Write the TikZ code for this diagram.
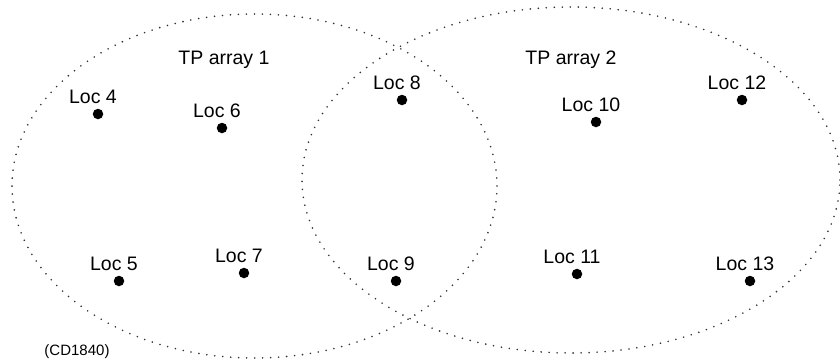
\documentclass[tikz,border=0pt]{standalone}
\usepackage{fontspec}
\setmainfont{Liberation Sans}
\usetikzlibrary{calc}
\tikzstyle{every node}=[font=\fontsize{19.5}{22}\selectfont]
\tikzstyle{zone}=[line width=1.8pt, dash pattern=on 0pt off 8pt, line cap=round, black!80]
\tikzstyle{dot}=[circle, fill=black, inner sep=0pt, minimum size=10.5pt]

\begin{document}
\begin{tikzpicture}[x=1pt,y=-1pt]
        \useasboundingbox (0,0) rectangle (840,360);

        \draw [zone] (254.5,186) ellipse [x radius=242.5pt, y radius=172pt];
        \draw [zone] (571,180) ellipse [x radius=269pt, y radius=173pt];

        \node [anchor=base] (arr1) at (224,64) {TP array 1};
        \node [anchor=base] (arr2) at (571,64) {TP array 2};

        \foreach \n/\x/\y in {4/98/114, 6/222/128, 8/402/100, 5/119/281, 7/244/273,
                              9/396/281, 10/596/122, 12/742/100, 11/577/274, 13/750/281}
        {
            \coordinate (p\n) at (\x,\y);
            \node [dot] (d\n) at (p\n) {};
            \node [anchor=base] (l\n) at ($(p\n)+(-5,-10.5)$) {Loc \n};
        }

        \node [anchor=base, font=\fontsize{15}{18}\selectfont] (cd) at (77,355) {(CD1840)};
    \end{tikzpicture}
\end{document}
